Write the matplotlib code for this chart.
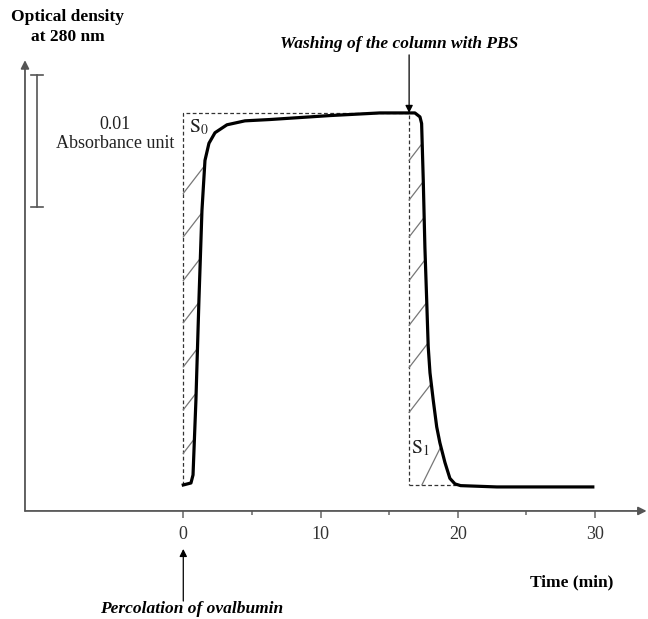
import numpy as np
import matplotlib
matplotlib.use("Agg")
import matplotlib.pyplot as plt

plt.rcParams['font.family'] = ['Liberation Serif', 'DejaVu Serif']
plt.rcParams['mathtext.fontset'] = 'stix'

# elution profile (time in min, optical density in mAU above baseline)
time = [0.0, 0.56, 0.71, 0.92, 1.14, 1.36, 1.58, 1.87, 2.31, 3.18, 4.49, 6.31,
        10.68, 14.32, 16.87, 17.24, 17.36, 17.48, 17.6, 17.73, 17.84, 17.97,
        18.21, 18.46, 18.69, 19.06, 19.42, 19.79, 20.2, 22.84, 29.83]
od = [0.0, 0.15, 0.76, 6.4, 14.0, 20.8, 24.6, 25.9, 26.7, 27.3, 27.6, 27.7,
      28.0, 28.2, 28.2, 27.9, 27.4, 23.1, 18.0, 14.0, 10.5, 8.5,
      6.4, 4.4, 3.2, 1.7, 0.5, 0.08, -0.05, -0.15, -0.15]

t_load = 0.0      # percolation of ovalbumin
t_wash = 16.45    # washing with PBS
bar_od = 10.0     # 0.01 absorbance unit

xticks_major = [0, 10, 20, 30]
xticks_minor = [5, 15, 25]

t = np.array(time)
y = np.array(od)
top = y.max()

fig = plt.figure(figsize=(6.48, 6.19), dpi=100)
ax = fig.add_axes([0, 0, 1, 1])
ax.set_xlim(-13.35, 33.85)
ax.set_ylim(-10.16, 36.76)
for s in ['top', 'right', 'left']:
    ax.spines[s].set_visible(False)
y_axis = -1.97
x_axis = -11.53
ax.spines['bottom'].set_position(('data', y_axis))
ax.spines['bottom'].set_visible(False)
ax.set_yticks([])
ax.set_xticks(xticks_major)
ax.set_xticks(xticks_minor, minor=True)
ax.set_xticklabels([str(v) for v in xticks_major])
ax.tick_params(axis='x', which='major', direction='out', length=5, width=1.1,
               color='#666666', labelsize=13, pad=6, labelcolor='#333333')
ax.tick_params(axis='x', which='minor', direction='out', length=3, width=1.1,
               color='#666666')
ax.patch.set_alpha(0)

# axes with arrows
ax.annotate('', xy=(33.75, y_axis), xytext=(x_axis, y_axis),
            arrowprops=dict(arrowstyle='-|>', color='#555555', lw=1.3,
                            mutation_scale=12, shrinkA=0, shrinkB=0))
ax.annotate('', xy=(x_axis, 32.2), xytext=(x_axis, y_axis),
            arrowprops=dict(arrowstyle='-|>', color='#555555', lw=1.3,
                            mutation_scale=12, shrinkA=0, shrinkB=0))

# scale bar
bx = -10.65
b0, b1 = 21.07, 21.07 + bar_od
ax.plot([bx, bx], [b0, b1], color='#555555', lw=1.2)
ax.plot([bx - 0.45, bx + 0.45], [b0, b0], color='#555555', lw=1.2)
ax.plot([bx - 0.45, bx + 0.45], [b1, b1], color='#555555', lw=1.2)
ax.text(-4.97, 27.3, '0.01', ha='center', va='center', fontsize=13, color='#222222')
ax.text(-4.97, 25.9, 'Absorbance unit', ha='center', va='center', fontsize=13,
        color='#222222')

# dashed frame
dash = dict(color='#333333', lw=0.9, ls=(0, (3, 2)))
ax.plot([t_load, t_load, t_wash, t_wash], [0, top, top, 0], **dash)
ax.plot([t_wash, 19.9], [0, 0], **dash)

# hatching
s = 1.35
rise = slice(0, 14)
fall = slice(14, 28)
yy = np.linspace(0, top, 3000)
t_rise = np.interp(yy, y[rise], t[rise])
t_fall = np.interp(yy, y[fall][::-1], t[fall][::-1])
hatch = dict(color='#777777', lw=0.9)
for y0 in [22.1, 18.8, 15.5, 12.3, 8.95, 5.7, 2.4]:
    xl = t_load + (yy - y0) / s
    ok = (yy >= y0) & (xl >= t_rise)
    yi = yy[ok][0]
    ax.plot([t_load, t_load + (yi - y0) / s], [y0, yi], **hatch)
for y0 in [24.6, 21.6, 18.8, 15.5, 12.1, 8.9, 5.5]:
    xl = t_wash + (yy - y0) / s
    ok = (yy >= y0) & (xl >= t_fall)
    yi = yy[ok][0]
    ax.plot([t_wash, t_wash + (yi - y0) / s], [y0, yi], **hatch)
x0 = 17.38
xl = x0 + yy / 2.1
ok = xl >= t_fall
yi = yy[ok][0]
ax.plot([x0, x0 + yi / 2.1], [0, yi], **hatch)

# curve
ax.plot(t, y, color='black', lw=2.3, solid_joinstyle='round', zorder=5)

ax.text(0.45, 27.1, r'$\mathrm{S}_0$', fontsize=14, ha='left', va='center',
        color='#222222')
ax.text(16.6, 2.8, r'$\mathrm{S}_1$', fontsize=14, ha='left', va='center',
        color='#222222')

# annotations
ax.annotate('', xy=(t_wash, top), xytext=(t_wash, 32.6),
            arrowprops=dict(arrowstyle='-|>', color='black', lw=0.9,
                            mutation_scale=11, shrinkA=0, shrinkB=0))
ax.text(15.7, 33.4, 'Washing of the column with PBS', ha='center', va='center',
        fontsize=12.5, fontweight='bold', fontstyle='italic')
ax.annotate('', xy=(t_load, -4.85), xytext=(t_load, -8.8),
            arrowprops=dict(arrowstyle='-|>', color='black', lw=0.9,
                            mutation_scale=11, shrinkA=0, shrinkB=0))
ax.text(0.6, -9.4, 'Percolation of ovalbumin', ha='center', va='center',
        fontsize=12.5, fontweight='bold', fontstyle='italic')
ax.text(28.3, -7.4, 'Time (min)', ha='center', va='center', fontsize=12.5,
        fontweight='bold')
ax.text(-8.4, 36.1, 'Optical density\nat 280 nm', ha='center', va='top',
        fontsize=12.5, fontweight='bold', linespacing=1.35)

fig.savefig('out.png', dpi=100)
